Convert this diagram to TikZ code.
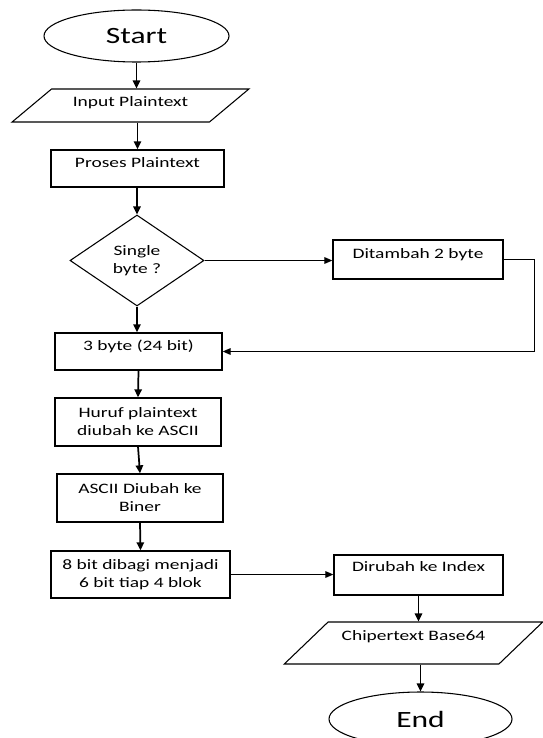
\documentclass[tikz,border=0pt]{standalone}
\usepackage{fontspec}
\setmainfont[FakeStretch=1.35]{Carlito}
\usetikzlibrary{shapes.geometric,arrows.meta,calc}

\tikzset{every picture/.style={line width=0.75pt}}
\tikzset{
	txt/.style={font=\fontsize{10.8}{13.5}\selectfont, align=center},
	procbox/.style={txt, draw, rectangle, line width=1pt, inner sep=2pt},
	lift/.style={text height=7.5pt, text depth=#1},
	iobox/.style={txt, draw, trapezium, trapezium stretches=true, line width=0.8pt, inner sep=1pt},
	termbox/.style={draw, ellipse, line width=0.8pt, font=\fontsize{17.5}{20}\selectfont},
	decbox/.style={txt, draw, diamond, line width=0.8pt, inner sep=0pt},
	varr/.style={line width=1.3pt, -{Triangle[length=6pt,width=5.5pt]}},
	harr/.style={line width=0.8pt, -{Triangle[length=6pt,width=5pt]}}
}

\begin{document}
\begin{tikzpicture}[x=0.75pt,y=0.75pt,yscale=-1,xscale=1]
	\useasboundingbox (0,0) rectangle (542,738);

	%Shape: Ellipse [id:start]
	\node[termbox, minimum width=138.75pt, minimum height=39pt] (start) at (136.5,36) {Start};
	%Shape: Parallelogram [id:inp]
	\node[iobox, lift=5.7pt, trapezium left angle=34.5, trapezium right angle=145.5,
		minimum width=177.75pt, minimum height=24.75pt] (inp) at (130.5,105.5) {Input Plaintext};
	%Shape: Rectangle [id:prc]
	\node[procbox, lift=9pt, minimum width=129.75pt, minimum height=27.75pt] (prc) at (137.5,168.5) {Proses Plaintext};
	%Shape: Diamond [id:dec]
	\node[decbox, minimum width=100.5pt, minimum height=68.25pt] (dec) at (137,260.5) {Single\\byte ?};
	%Shape: Rectangle [id:add]
	\node[procbox, lift=9.5pt, minimum width=127.5pt, minimum height=29.25pt] (add) at (418,259.5) {Ditambah 2 byte};
	%Shape: Rectangle [id:blk]
	\node[procbox, lift=9pt, minimum width=125.25pt, minimum height=27.75pt] (blk) at (138.5,351.5) {3 byte (24 bit)};
	%Shape: Rectangle [id:asc]
	\node[procbox, minimum width=124.5pt, minimum height=36pt] (asc) at (138,422) {Huruf plaintext\\diubah ke ASCII};
	%Shape: Rectangle [id:bin]
	\node[procbox, minimum width=124.5pt, minimum height=36pt] (bin) at (140,498) {ASCII Diubah ke\\Biner};
	%Shape: Rectangle [id:spl]
	\node[procbox, minimum width=134.25pt, minimum height=35.25pt] (spl) at (140.5,574.5) {8 bit dibagi menjadi\\6 bit tiap 4 blok};
	%Shape: Rectangle [id:idx]
	\node[procbox, lift=12.5pt, minimum width=126.75pt, minimum height=30pt] (idx) at (418.5,575) {Dirubah ke Index};
	%Shape: Parallelogram [id:out]
	\node[iobox, lift=12pt, trapezium left angle=37.4, trapezium right angle=142.6,
		minimum width=194.25pt, minimum height=31.5pt] (out) at (413.5,643) {Chipertext Base64};
	%Shape: Ellipse [id:fin]
	\node[termbox, minimum width=137.25pt, minimum height=40.5pt] (fin) at (420.5,719) {End};

	%Straight Lines
	\draw[varr] (start.south) -- (start.south |- inp.north);
	\draw[varr] (inp.south -| prc.north) -- (prc.north);
	\draw[varr] (prc.south -| dec.north) -- (dec.north);
	\draw[harr] (dec.east) -- (dec.east -| add.west);
	\draw[varr] (dec.south) -- (dec.south |- blk.north);
	\draw[harr] (add.east) -- ++(31,0) |- (blk.east);
	\draw[varr] (blk.south) -- (asc.north);
	\draw[varr] (asc.south) -- (bin.north);
	\draw[varr] (bin.south) -- (spl.north);
	\draw[harr] (spl.east) -- (spl.east -| idx.west);
	\draw[varr] (idx.south) -- (idx.south |- out.north);
	\draw[varr] (out.south -| fin.north) -- (fin.north);

\end{tikzpicture}
\end{document}
